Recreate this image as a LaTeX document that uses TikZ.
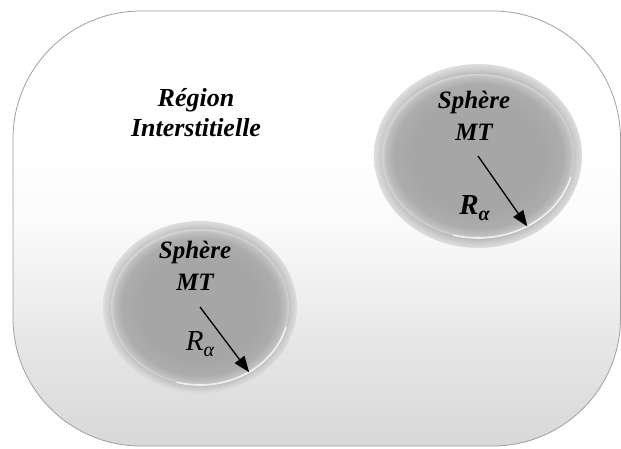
\documentclass[tikz,border=0pt]{standalone}
\usepackage{fontspec}
\setmainfont{Liberation Serif}
\usetikzlibrary{arrows.meta,shapes.geometric}

% panel colours
\definecolor{panelbot}{HTML}{D8D8D8}
\definecolor{panellow}{HTML}{E6E6E6}
\definecolor{panelmid}{HTML}{F1F1F1}
\definecolor{panelhi}{HTML}{FBFBFB}
\definecolor{paneltop}{HTML}{FFFFFF}
\definecolor{panelline}{HTML}{A0A0A0}
% sphere colours
\definecolor{diskc}{HTML}{A6A6A6}
\definecolor{diskm}{HTML}{ACACAC}
\definecolor{diske}{HTML}{C0C0C0}
\definecolor{diskr}{HTML}{D6D6D6}
\definecolor{haloi}{HTML}{B4B4B4}
\definecolor{halom}{HTML}{CDCDCD}
\definecolor{haloe}{HTML}{DEDEDE}

\pgfdeclareverticalshading{panelshade}{100bp}{%
  color(0bp)=(panelbot); color(25bp)=(panelbot); color(36.5bp)=(panellow);
  color(44bp)=(panelmid); color(51bp)=(panelhi); color(60bp)=(paneltop);
  color(100bp)=(paneltop)}
\pgfdeclareradialshading{diskshade}{\pgfpointorigin}{%
  color(0bp)=(diskc); color(17bp)=(diskc); color(22bp)=(diskm);
  color(24.2bp)=(diske); color(25bp)=(diskr); color(50bp)=(diskr)}
\pgfdeclareradialshading{haloshade}{\pgfpointorigin}{%
  color(0bp)=(haloi); color(22bp)=(haloi); color(23.6bp)=(halom);
  color(25bp)=(haloe); color(50bp)=(haloe)}

% R with subscript alpha
\newcommand{\radsym}{\itshape R\raisebox{-6pt}{\fontsize{20}{20}\selectfont\itshape α}}

\tikzset{
  panel/.style={draw=panelline, line width=0.8pt, rounded corners=128pt,
    shade, shading=panelshade},
  halo/.style={ellipse, inner sep=0pt, shade, shading=haloshade},
  disk/.style={ellipse, inner sep=0pt, shade, shading=diskshade},
  gleam/.style={white, opacity=0.75, line width=1.6pt, line cap=round},
  label/.style={font=\fontsize{25}{32}\selectfont\bfseries\itshape,
    align=center, inner sep=0pt},
  radius label/.style={font=\fontsize{29}{30}\selectfont, inner sep=0pt, anchor=base},
  radius arrow/.style={line width=1.3pt,
    -{Triangle[length=16pt,width=12pt]}},
}

\begin{document}
\begin{tikzpicture}[x=1pt,y=1pt]
  \useasboundingbox (0,0) rectangle (621,448);
  \fill[white] (0,0) rectangle (621,448);

  % interstitial region
  \draw[panel] (13,2) rectangle (620.5,437);
  \node[label, font=\fontsize{26}{30}\selectfont\bfseries\itshape] (reg) at (196,335)
    {Région\\Interstitielle};

  % muffin-tin sphere, upper right
  \node[halo, minimum width=208pt, minimum height=184pt] (h1) at (478,292) {};
  \node[disk, minimum width=192pt, minimum height=164pt] (d1) at (h1.center) {};
  \draw[gleam, shift={(d1.center)}] (-105:96pt and 82pt)
    arc[start angle=-105, end angle=-15, x radius=96pt, y radius=82pt];
  \node[label] (t1) at (474,332.5) {Sphère\\MT};
  \node[radius label, font=\fontsize{29}{30}\selectfont\bfseries] (r1) at (474.5,234) {\radsym};
  \draw[radius arrow] (d1.center) -- (d1.-55);

  % muffin-tin sphere, lower left
  \node[halo, minimum width=194pt, minimum height=172pt] (h2) at (200,141) {};
  \node[disk, minimum width=178pt, minimum height=156pt] (d2) at (h2.center) {};
  \draw[gleam, shift={(d2.center)}] (-105:89pt and 78pt)
    arc[start angle=-105, end angle=-15, x radius=89pt, y radius=78pt];
  \node[label] (t2) at (195,182.5) {Sphère\\MT};
  \node[radius label] (r2) at (200,98) {\radsym};
  \draw[radius arrow] (d2.center) -- (d2.-53);
\end{tikzpicture}
\end{document}
